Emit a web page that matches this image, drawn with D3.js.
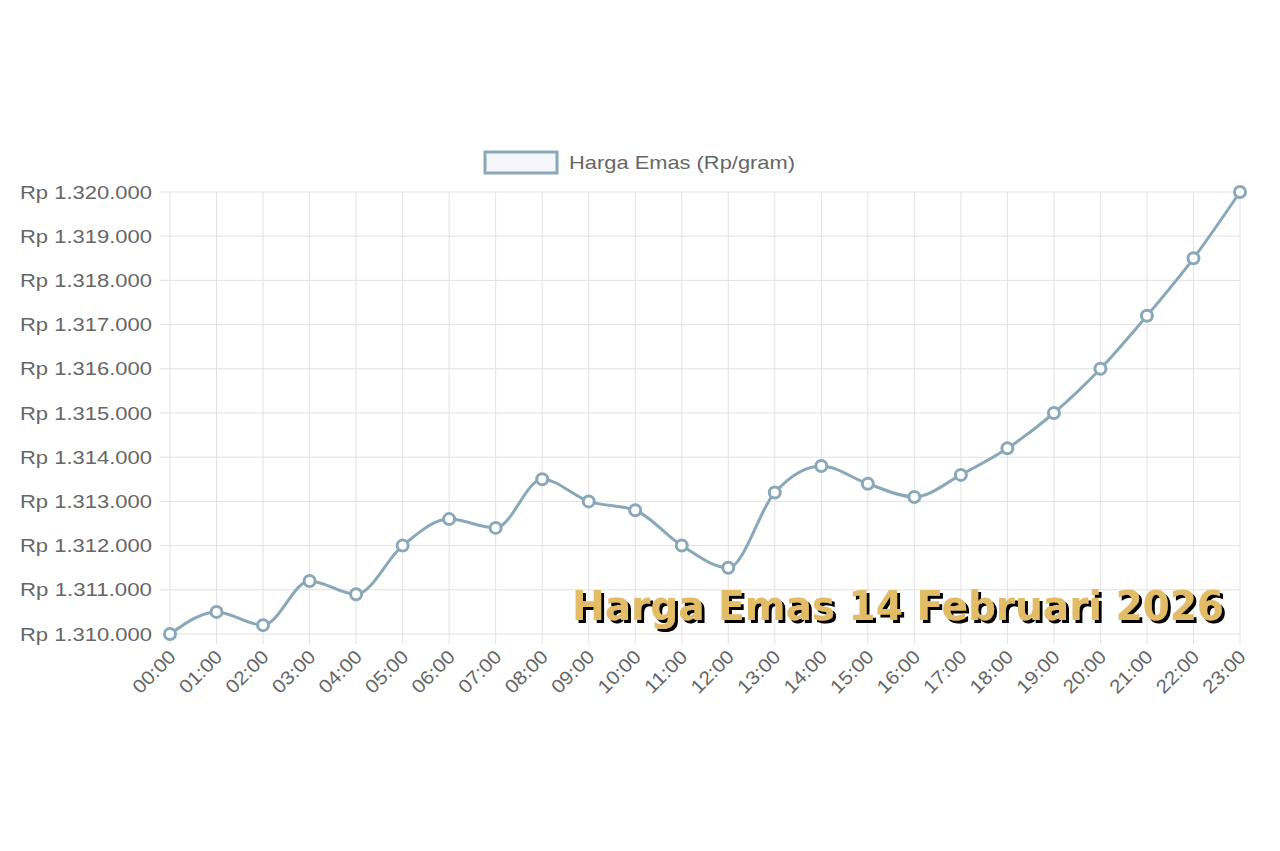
<!DOCTYPE html>
<html><head><meta charset="utf-8">
<script src="https://cdn.jsdelivr.net/npm/d3@7"></script>
<style>body{margin:0;background:#fff}</style></head>
<body><svg id="c" width="1280" height="851"></svg>
<script>
const categories=["00:00","01:00","02:00","03:00","04:00","05:00","06:00","07:00","08:00","09:00","10:00","11:00","12:00","13:00","14:00","15:00","16:00","17:00","18:00","19:00","20:00","21:00","22:00","23:00"];
const values=[1310000,1310500,1310200,1311200,1310900,1312000,1312600,1312400,1313500,1313000,1312800,1312000,1311500,1313200,1313800,1313400,1313100,1313600,1314200,1315000,1316000,1317200,1318500,1320000];
const yTicks=[1310000,1311000,1312000,1313000,1314000,1315000,1316000,1317000,1318000,1319000,1320000];
const seriesName="Harga Emas (Rp/gram)";
const title="Harga Emas 14 Februari 2026";
const svg=d3.select("#c");
const col="#8aa8b8";
const f=svg.append("defs").append("filter").attr("id","sh").attr("x","-5%").attr("y","-20%").attr("width","110%").attr("height","150%");
f.append("feDropShadow").attr("dx",3).attr("dy",3).attr("stdDeviation",0.6).attr("flood-color","#000").attr("flood-opacity",1);
const x=d3.scalePoint().domain(categories).range([170,1240]);
const y=d3.scaleLinear().domain([1310000,1320000]).range([634,192]);
const fmt=v=>"Rp "+d3.format(",")(v).replace(/,/g,".");
const g=svg.append("g");
g.selectAll(".v").data(categories).join("line").attr("x1",d=>x(d)).attr("x2",d=>x(d)).attr("y1",192).attr("y2",644).attr("stroke","#e2e2e2");
g.selectAll(".h").data(yTicks).join("line").attr("x1",160).attr("x2",1240).attr("y1",d=>y(d)).attr("y2",d=>y(d)).attr("stroke","#e2e2e2");
g.selectAll(".yl").data(yTicks).join("text").attr("x",152).attr("y",d=>y(d)).attr("dy","0.35em").attr("text-anchor","end")
 .attr("font-family","Arial, Liberation Sans").attr("font-size",19).attr("fill","#666")
 .attr("textLength",132).attr("lengthAdjust","spacingAndGlyphs").text(fmt);
g.selectAll(".xl").data(categories).join("text").attr("transform",d=>`translate(${x(d)+7},${658}) rotate(-45)`).attr("text-anchor","end")
 .attr("font-family","Arial, Liberation Sans").attr("font-size",19).attr("fill","#666")
 .attr("textLength",52).attr("lengthAdjust","spacingAndGlyphs").text(d=>d);
svg.append("path").datum(values).attr("fill","none").attr("stroke",col).attr("stroke-width",3)
 .attr("d",d3.line().x((d,i)=>x(categories[i])).y(d=>y(d)).curve(d3.curveMonotoneX));
svg.selectAll(".p").data(values).join("circle").attr("cx",(d,i)=>x(categories[i])).attr("cy",d=>y(d)).attr("r",5.5)
 .attr("fill","#fff").attr("stroke",col).attr("stroke-width",3);
svg.append("rect").attr("x",485).attr("y",152).attr("width",72).attr("height",21).attr("fill","#f4f6fa").attr("stroke",col).attr("stroke-width",3);
svg.append("text").attr("x",569).attr("y",169).attr("font-family","Arial, Liberation Sans").attr("font-size",19).attr("fill","#666")
 .attr("textLength",226).attr("lengthAdjust","spacingAndGlyphs").text(seriesName);
svg.append("text").attr("x",572).attr("y",620).attr("textLength",652).attr("lengthAdjust","spacingAndGlyphs")
 .attr("font-family","DejaVu Sans").attr("font-weight","bold").attr("font-size",40).attr("fill","#e2bc66")
 .attr("filter","url(#sh)").text(title);
</script></body></html>
